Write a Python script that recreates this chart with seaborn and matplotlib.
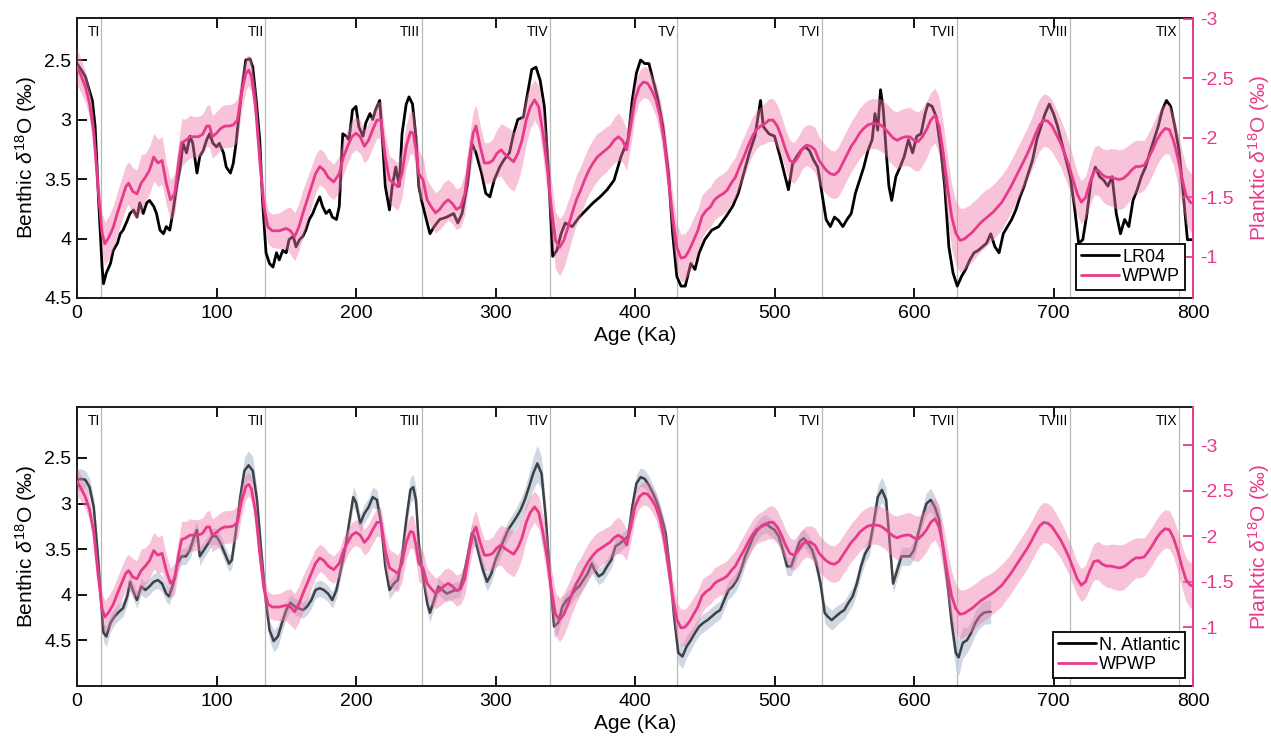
import numpy as np
import pandas as pd
import matplotlib
matplotlib.use("Agg")
import matplotlib.pyplot as plt
import seaborn as sns
from matplotlib.transforms import blended_transform_factory
from matplotlib.lines import Line2D

# ---------------------------------------------------------------- data
# Glacial terminations (age, ka)
term_age = [17.5, 135, 247, 339, 430, 534, 631, 712, 790]
term_name = ["TI", "TII", "TIII", "TIV", "TV", "TVI", "TVII", "TVIII", "TIX"]

# LR04 benthic stack (per mil)
lr04_age = [
    0, 4, 6, 8, 11, 13, 15.5, 18, 19, 21,
    24, 26, 29, 31, 33, 36, 38, 40.5, 43, 45,
    47.5, 50, 52, 55, 57, 59.5, 62, 64, 66.5, 69,
    71.5, 74, 76, 78.5, 81, 83, 86, 88, 90.5, 93,
    95, 97.5, 100, 102, 105, 107, 110, 112, 114, 116.5,
    119, 121, 124, 126, 128.5, 131, 133, 135.5, 138, 140.5,
    143, 145, 147.5, 150, 152, 155, 157, 159.5, 162, 164,
    166.5, 169, 171, 174, 176, 178.5, 181, 183, 186, 188,
    190.5, 193, 195, 197.5, 200, 202, 205, 207, 210, 212,
    214, 217, 219, 221, 224, 226, 228.5, 231, 233, 236,
    238, 240.5, 243, 245, 247, 250, 253, 256, 260, 265,
    270, 273, 276, 280, 283, 286, 290, 293, 296, 299,
    303, 306, 310, 313, 316, 320, 323, 326, 329, 332,
    335, 338, 341, 344, 347, 350, 355, 360, 365, 370,
    375, 380, 385, 390, 395, 398, 401, 404, 407, 410,
    413, 416, 420, 424, 427, 430, 433, 436, 440, 443,
    446, 450, 455, 460, 465, 470, 474, 478, 482, 486,
    490, 492, 496, 500, 504, 507, 510, 513, 516, 519,
    522, 525, 528, 531, 534, 537, 540, 543, 546, 549,
    552, 555, 558, 561, 564, 567, 570, 572, 574, 576,
    578, 580, 582, 584, 587, 590, 593, 596, 599, 602,
    605, 608, 610, 613, 616, 619, 622, 625, 628, 631,
    634, 637, 640, 643, 646, 649, 652, 655, 658, 661,
    664, 667, 670, 673, 676, 679, 682, 685, 688, 691,
    694, 697, 700, 703, 706, 709, 712, 715, 718, 721,
    724, 727, 730, 733, 736, 739, 742, 745, 748, 751,
    754, 757, 760, 763, 766, 769, 772, 775, 778, 781,
    784, 787, 790, 793, 796, 800,
]
lr04_d18o = [
    2.53, 2.60, 2.64, 2.72, 2.84, 3.06, 3.68, 4.24, 4.38, 4.29,
    4.21, 4.10, 4.04, 3.96, 3.93, 3.85, 3.79, 3.76, 3.82, 3.70,
    3.79, 3.70, 3.68, 3.73, 3.79, 3.93, 3.96, 3.90, 3.93, 3.76,
    3.56, 3.40, 3.20, 3.28, 3.14, 3.20, 3.45, 3.31, 3.26, 3.17,
    3.12, 3.20, 3.23, 3.20, 3.28, 3.40, 3.45, 3.37, 3.20, 2.92,
    2.67, 2.50, 2.49, 2.56, 2.84, 3.17, 3.68, 4.12, 4.21, 4.24,
    4.12, 4.18, 4.10, 4.12, 4.01, 3.98, 4.07, 4.01, 3.98, 3.93,
    3.84, 3.79, 3.73, 3.65, 3.73, 3.79, 3.76, 3.82, 3.84, 3.73,
    3.12, 3.14, 3.17, 2.92, 2.89, 3.06, 3.14, 3.03, 2.95, 3.00,
    2.92, 2.84, 3.17, 3.56, 3.76, 3.56, 3.40, 3.56, 3.12, 2.87,
    2.81, 2.87, 3.15, 3.56, 3.68, 3.82, 3.96, 3.90, 3.84, 3.82,
    3.79, 3.87, 3.79, 3.54, 3.20, 3.28, 3.45, 3.62, 3.65, 3.51,
    3.40, 3.34, 3.28, 3.12, 3.00, 2.98, 2.78, 2.58, 2.56, 2.67,
    2.89, 3.45, 4.15, 4.10, 3.96, 3.87, 3.90, 3.82, 3.76, 3.70,
    3.65, 3.59, 3.51, 3.31, 3.17, 2.84, 2.61, 2.50, 2.53, 2.53,
    2.67, 2.81, 3.06, 3.45, 3.96, 4.32, 4.40, 4.40, 4.21, 4.26,
    4.12, 4.01, 3.93, 3.90, 3.82, 3.73, 3.62, 3.45, 3.28, 3.14,
    2.84, 3.06, 3.12, 3.14, 3.31, 3.45, 3.59, 3.37, 3.31, 3.26,
    3.23, 3.26, 3.34, 3.40, 3.62, 3.84, 3.90, 3.82, 3.85, 3.90,
    3.84, 3.79, 3.62, 3.51, 3.40, 3.26, 3.17, 2.95, 3.09, 2.75,
    2.92, 3.26, 3.56, 3.68, 3.48, 3.40, 3.31, 3.17, 3.28, 3.14,
    3.12, 2.95, 2.87, 2.89, 2.98, 3.23, 3.56, 4.07, 4.29, 4.40,
    4.32, 4.26, 4.18, 4.12, 4.10, 4.07, 4.04, 3.96, 4.07, 4.12,
    3.96, 3.90, 3.84, 3.76, 3.65, 3.56, 3.45, 3.34, 3.17, 3.06,
    2.95, 2.87, 2.95, 3.06, 3.20, 3.34, 3.48, 3.73, 4.04, 4.01,
    3.79, 3.51, 3.40, 3.48, 3.51, 3.56, 3.48, 3.79, 3.96, 3.84,
    3.90, 3.68, 3.59, 3.48, 3.40, 3.28, 3.17, 3.06, 2.92, 2.84,
    2.89, 3.06, 3.26, 3.62, 4.01, 4.01,
]

# North Atlantic benthic record (per mil) and its 1-sigma band
natl_age = [
    0, 3, 6, 9, 12, 15, 17, 19, 21, 24,
    27, 30, 33, 36, 38, 40, 43, 46, 49, 52,
    55, 58, 61, 64, 66, 69, 72, 75, 78, 81,
    84, 86, 88, 91, 94, 97, 100, 103, 106, 109,
    111, 114, 117, 120, 123, 126, 129, 132, 135, 138,
    141, 144, 147, 150, 153, 156, 159, 162, 165, 168,
    171, 174, 177, 180, 183, 186, 189, 192, 195, 198,
    200, 203, 206, 209, 212, 215, 218, 221, 224, 227,
    230, 233, 236, 239, 241, 243, 245, 248, 251, 253,
    256, 259, 262, 265, 268, 271, 274, 277, 280, 283,
    285, 288, 291, 294, 297, 300, 303, 306, 309, 312,
    315, 318, 321, 324, 327, 330, 333, 336, 339, 342,
    345, 348, 351, 354, 357, 360, 363, 366, 369, 371,
    374, 377, 380, 383, 386, 389, 392, 395, 398, 401,
    404, 407, 410, 413, 416, 419, 422, 425, 428, 431,
    434, 437, 440, 443, 446, 449, 452, 455, 458, 461,
    464, 467, 470, 473, 476, 479, 482, 485, 488, 491,
    494, 497, 500, 503, 506, 509, 512, 515, 518, 521,
    524, 527, 530, 533, 536, 538, 541, 544, 547, 550,
    553, 556, 559, 562, 565, 568, 571, 574, 577, 580,
    583, 585, 588, 591, 594, 597, 600, 603, 606, 609,
    612, 615, 618, 621, 624, 627, 630, 632, 635, 638,
    641, 644, 647, 650, 653, 655,
]
natl_d18o = [
    2.74, 2.73, 2.74, 2.82, 3.04, 3.58, 4.02, 4.42, 4.46, 4.31,
    4.24, 4.19, 4.15, 4.02, 3.86, 3.95, 4.06, 3.91, 3.95, 3.91,
    3.86, 3.84, 3.88, 3.99, 4.02, 3.88, 3.66, 3.58, 3.58, 3.51,
    3.36, 3.29, 3.58, 3.51, 3.44, 3.36, 3.36, 3.44, 3.55, 3.66,
    3.62, 3.29, 2.93, 2.64, 2.58, 2.64, 2.96, 3.51, 4.02, 4.39,
    4.51, 4.46, 4.31, 4.17, 4.09, 4.13, 4.15, 4.17, 4.13, 4.06,
    3.95, 3.93, 3.95, 3.99, 4.06, 3.95, 3.73, 3.51, 3.22, 2.93,
    2.99, 3.22, 3.11, 3.04, 2.93, 2.96, 3.22, 3.69, 3.95, 3.88,
    3.84, 3.58, 3.18, 2.85, 2.82, 2.96, 3.44, 3.80, 4.09, 4.20,
    4.06, 3.91, 3.95, 3.99, 3.97, 3.95, 3.95, 3.80, 3.58, 3.33,
    3.36, 3.55, 3.73, 3.86, 3.77, 3.62, 3.51, 3.40, 3.29, 3.22,
    3.15, 3.07, 2.96, 2.82, 2.67, 2.56, 2.67, 3.15, 3.80, 4.35,
    4.31, 4.13, 4.06, 4.02, 3.95, 3.91, 3.84, 3.77, 3.66, 3.73,
    3.80, 3.77, 3.69, 3.62, 3.47, 3.44, 3.40, 3.36, 3.04, 2.78,
    2.71, 2.73, 2.80, 2.89, 3.00, 3.15, 3.33, 3.73, 4.24, 4.64,
    4.68, 4.57, 4.50, 4.42, 4.35, 4.31, 4.28, 4.24, 4.20, 4.17,
    4.06, 3.95, 3.91, 3.84, 3.73, 3.58, 3.47, 3.36, 3.29, 3.24,
    3.22, 3.26, 3.29, 3.36, 3.51, 3.69, 3.69, 3.55, 3.42, 3.38,
    3.44, 3.51, 3.66, 3.88, 4.20, 4.24, 4.28, 4.24, 4.20, 4.17,
    4.09, 4.02, 3.88, 3.69, 3.55, 3.47, 3.22, 2.93, 2.85, 2.96,
    3.51, 3.88, 3.73, 3.58, 3.58, 3.58, 3.51, 3.33, 3.15, 3.00,
    2.96, 3.04, 3.18, 3.51, 3.88, 4.31, 4.64, 4.69, 4.53, 4.50,
    4.42, 4.31, 4.24, 4.20, 4.19, 4.19,
]
natl_err = [
    .12, .11, .10, .10, .10, .10, .10, .10, .11, .10,
    .09, .09, .09, .09, .10, .09, .09, .09, .09, .09,
    .09, .09, .09, .09, .09, .09, .09, .09, .09, .09,
    .10, .10, .10, .09, .09, .09, .09, .09, .09, .09,
    .09, .10, .12, .15, .16, .15, .12, .10, .10, .11,
    .12, .12, .10, .09, .09, .09, .09, .09, .09, .09,
    .09, .09, .09, .09, .09, .09, .09, .09, .10, .11,
    .11, .10, .10, .10, .11, .11, .10, .10, .10, .10,
    .10, .10, .12, .14, .14, .13, .11, .10, .10, .10,
    .09, .09, .09, .09, .09, .09, .09, .09, .10, .11,
    .11, .10, .10, .10, .10, .10, .10, .10, .10, .10,
    .11, .12, .13, .15, .18, .20, .18, .14, .12, .12,
    .11, .10, .09, .09, .09, .09, .09, .09, .09, .09,
    .09, .09, .09, .09, .09, .09, .09, .09, .10, .10,
    .10, .10, .10, .09, .09, .09, .09, .10, .11, .12,
    .13, .12, .11, .10, .10, .10, .10, .10, .10, .10,
    .10, .10, .10, .10, .10, .10, .10, .10, .10, .10,
    .10, .10, .10, .10, .10, .10, .10, .10, .10, .10,
    .10, .10, .10, .10, .11, .11, .11, .11, .10, .10,
    .10, .10, .10, .10, .10, .10, .11, .13, .14, .13,
    .12, .11, .10, .10, .10, .10, .10, .10, .11, .12,
    .13, .12, .12, .12, .14, .17, .20, .20, .17, .14,
    .13, .13, .13, .13, .13, .13,
]

# Western Pacific Warm Pool planktic record (per mil) and its 1-sigma band
wpwp_age = [
    0, 3, 6, 9, 12, 15, 18, 20, 23, 26,
    29, 32, 35, 37, 40, 43, 46, 49, 52, 55,
    58, 61, 64, 67, 70, 73, 75, 78, 81, 84,
    87, 90, 93, 95, 97, 100, 103, 106, 109, 112,
    115, 118, 121, 123, 125, 128, 131, 134, 137, 140,
    145, 150, 153, 156, 159, 162, 165, 168, 171, 174,
    177, 180, 184, 188, 191, 194, 197, 200, 203, 206,
    209, 212, 215, 218, 221, 224, 227, 230, 233, 236,
    239, 241, 243, 245, 248, 251, 254, 257, 260, 263,
    266, 269, 272, 275, 278, 281, 284, 286, 289, 292,
    295, 298, 301, 304, 307, 310, 313, 316, 319, 322,
    325, 328, 331, 334, 337, 340, 343, 346, 349, 352,
    355, 358, 361, 364, 367, 370, 373, 376, 379, 382,
    385, 388, 391, 394, 397, 400, 403, 406, 409, 412,
    415, 418, 421, 424, 427, 430, 433, 436, 439, 442,
    445, 448, 451, 454, 457, 460, 463, 466, 469, 472,
    475, 478, 481, 484, 487, 490, 493, 496, 499, 502,
    505, 508, 511, 514, 517, 520, 523, 526, 529, 532,
    535, 537, 540, 543, 546, 549, 552, 555, 558, 561,
    564, 567, 570, 573, 576, 579, 582, 585, 588, 591,
    594, 597, 600, 603, 606, 609, 612, 615, 618, 621,
    624, 627, 630, 633, 636, 639, 642, 645, 648, 651,
    654, 657, 660, 663, 666, 669, 672, 675, 678, 681,
    684, 687, 690, 693, 696, 699, 702, 705, 708, 711,
    714, 717, 720, 723, 726, 729, 732, 735, 738, 741,
    744, 747, 750, 753, 756, 759, 762, 765, 768, 771,
    774, 777, 780, 783, 786, 789, 792, 795, 798, 800,
]
wpwp_d18o = [
    -2.60, -2.52, -2.43, -2.29, -2.04, -1.59, -1.20, -1.11, -1.17, -1.25,
    -1.37, -1.48, -1.59, -1.62, -1.55, -1.53, -1.62, -1.67, -1.73, -1.84,
    -1.79, -1.81, -1.62, -1.48, -1.53, -1.81, -1.96, -1.98, -2.01, -2.01,
    -2.01, -2.03, -2.10, -2.10, -2.01, -2.04, -2.08, -2.10, -2.10, -2.11,
    -2.15, -2.38, -2.54, -2.57, -2.52, -2.26, -1.81, -1.42, -1.25, -1.22,
    -1.22, -1.24, -1.22, -1.17, -1.25, -1.37, -1.48, -1.59, -1.70, -1.76,
    -1.73, -1.67, -1.63, -1.70, -1.84, -1.93, -2.01, -2.04, -2.01, -1.93,
    -1.98, -2.07, -2.15, -2.15, -1.84, -1.65, -1.62, -1.59, -1.70, -1.93,
    -2.05, -2.04, -1.90, -1.70, -1.65, -1.48, -1.42, -1.37, -1.40, -1.45,
    -1.48, -1.45, -1.40, -1.42, -1.53, -1.81, -2.04, -2.10, -1.93, -1.79,
    -1.79, -1.81, -1.87, -1.90, -1.86, -1.83, -1.80, -1.87, -1.98, -2.15,
    -2.26, -2.32, -2.26, -2.04, -1.76, -1.42, -1.14, -1.08, -1.14, -1.25,
    -1.37, -1.48, -1.56, -1.65, -1.73, -1.79, -1.84, -1.87, -1.90, -1.93,
    -1.98, -2.01, -1.98, -1.90, -2.10, -2.32, -2.43, -2.47, -2.46, -2.40,
    -2.32, -2.18, -1.96, -1.65, -1.34, -1.08, -0.99, -1.00, -1.06, -1.14,
    -1.22, -1.34, -1.39, -1.42, -1.48, -1.51, -1.53, -1.56, -1.62, -1.67,
    -1.76, -1.84, -1.93, -2.01, -2.07, -2.10, -2.12, -2.15, -2.15, -2.10,
    -2.01, -1.90, -1.81, -1.79, -1.84, -1.91, -1.94, -1.93, -1.90, -1.81,
    -1.76, -1.73, -1.70, -1.69, -1.72, -1.79, -1.86, -1.93, -1.98, -2.04,
    -2.08, -2.11, -2.12, -2.12, -2.11, -2.08, -2.04, -2.00, -1.98, -2.00,
    -2.01, -2.01, -1.98, -1.97, -2.01, -2.07, -2.15, -2.19, -2.10, -1.87,
    -1.59, -1.34, -1.20, -1.14, -1.15, -1.18, -1.21, -1.25, -1.29, -1.32,
    -1.35, -1.38, -1.42, -1.46, -1.52, -1.58, -1.65, -1.72, -1.79, -1.86,
    -1.94, -2.03, -2.11, -2.15, -2.14, -2.10, -2.03, -1.96, -1.87, -1.77,
    -1.65, -1.53, -1.46, -1.50, -1.62, -1.72, -1.73, -1.69, -1.67, -1.67,
    -1.66, -1.65, -1.66, -1.69, -1.73, -1.76, -1.76, -1.77, -1.83, -1.90,
    -1.98, -2.04, -2.08, -2.07, -1.98, -1.84, -1.67, -1.52, -1.46, -1.45,
]
wpwp_err = [
    .15, .14, .13, .12, .12, .13, .17, .18, .18, .18,
    .18, .18, .18, .18, .20, .20, .24, .20, .20, .20,
    .20, .20, .18, .17, .17, .17, .20, .18, .18, .17,
    .17, .17, .17, .18, .18, .18, .18, .18, .18, .18,
    .18, .16, .14, .13, .13, .15, .16, .15, .14, .14,
    .15, .17, .20, .20, .20, .20, .18, .17, .16, .15,
    .15, .15, .15, .15, .15, .14, .14, .14, .14, .14,
    .15, .15, .15, .16, .18, .20, .20, .20, .20, .18,
    .18, .18, .18, .20, .18, .17, .17, .17, .17, .18,
    .17, .17, .17, .17, .18, .18, .18, .18, .18, .17,
    .17, .18, .20, .22, .24, .25, .25, .24, .22, .20,
    .18, .17, .18, .20, .22, .23, .24, .24, .23, .22,
    .21, .21, .20, .20, .20, .20, .20, .19, .19, .18,
    .19, .20, .18, .17, .16, .14, .13, .13, .13, .13,
    .14, .15, .16, .18, .19, .20, .20, .20, .19, .19,
    .18, .18, .17, .17, .17, .17, .17, .17, .17, .17,
    .17, .17, .16, .16, .16, .16, .17, .18, .18, .18,
    .17, .17, .17, .17, .17, .17, .17, .18, .19, .20,
    .20, .20, .20, .20, .21, .21, .21, .21, .21, .21,
    .21, .21, .21, .21, .22, .22, .23, .23, .24, .24,
    .24, .25, .25, .25, .24, .24, .23, .23, .24, .25,
    .26, .27, .27, .27, .26, .25, .25, .24, .24, .24,
    .23, .23, .23, .23, .22, .22, .22, .22, .22, .22,
    .22, .22, .22, .22, .22, .22, .21, .20, .20, .19,
    .19, .18, .18, .18, .19, .20, .21, .22, .23, .24,
    .25, .25, .25, .24, .23, .22, .22, .21, .21, .21,
    .21, .21, .21, .21, .21, .22, .23, .24, .25, .25,
]

benthic_ticks = [2.5, 3, 3.5, 4, 4.5]
planktic_ticks = [-3, -2.5, -2, -1.5, -1]
age_ticks = [0, 100, 200, 300, 400, 500, 600, 700, 800]

# ---------------------------------------------------------------- style
sns.set_style("ticks")
plt.rcParams["font.family"] = ["Liberation Sans", "DejaVu Sans"]
plt.rcParams["axes.unicode_minus"] = False
plt.rcParams["text.color"] = "black"
plt.rcParams["axes.labelcolor"] = "black"
plt.rcParams["xtick.color"] = "black"
plt.rcParams["ytick.color"] = "black"
plt.rcParams["mathtext.fontset"] = "custom"
plt.rcParams["mathtext.rm"] = "Liberation Sans"
plt.rcParams["mathtext.it"] = "Liberation Sans:italic"

PINK = "#e83a8c"
PINK_BAND = "#f07aaa"
NATL = "#3c4047"
NATL_BAND = "#c3cedd"
TERM = "#b8b8b8"

lr04 = pd.DataFrame({"age": lr04_age, "d18O": lr04_d18o})
natl = pd.DataFrame({"age": natl_age, "d18O": natl_d18o, "err": natl_err})
wpwp = pd.DataFrame({"age": wpwp_age, "d18O": wpwp_d18o, "err": wpwp_err})

W, H = 1271, 741
fig = plt.figure(figsize=(W / 100, H / 100), dpi=100)
left, right = 77 / W, 1193 / W
ax_top = fig.add_axes([left, 1 - 298 / H, right - left, 280 / H])
ax_bot = fig.add_axes([left, 1 - 686 / H, right - left, 279 / H])


def style_panel(ax, ax2, blim, plim):
    ax.set_xlim(0, 800)
    ax.set_ylim(*blim)
    ax2.set_ylim(*plim)
    ax.set_xticks(age_ticks)
    ax.set_yticks(benthic_ticks)
    ax.set_yticklabels([f"{t:g}" for t in benthic_ticks])
    ax2.set_yticks(planktic_ticks)
    ax2.set_yticklabels([f"{t:g}" for t in planktic_ticks])
    ax.tick_params(axis="x", direction="in", top=True, length=7, width=1.3,
                   labelsize=14, pad=5, colors="black")
    ax.tick_params(axis="y", direction="in", right=False, length=7, width=1.3,
                   labelsize=14, pad=4, colors="black")
    ax2.tick_params(axis="y", direction="in", length=7, width=1.3, labelsize=14,
                    colors=PINK, pad=5)
    for s in ["left", "bottom", "top"]:
        ax.spines[s].set_linewidth(1.4)
        ax.spines[s].set_color("#1a1a1a")
        ax2.spines[s].set_visible(False)
    ax.spines["right"].set_visible(False)
    ax2.spines["right"].set_color(PINK)
    ax2.spines["right"].set_linewidth(1.4)
    ax.set_xlabel("Age (Ka)", fontsize=15, labelpad=3, color="black")
    ax.set_ylabel(r"Benthic $\delta^{18}$O (‰)", fontsize=15, labelpad=4,
                  color="black")
    ax2.set_ylabel(r"Planktic $\delta^{18}$O (‰)", fontsize=15, color=PINK,
                   labelpad=9)

    trans = blended_transform_factory(ax.transData, ax.transAxes)
    for age, name in zip(term_age, term_name):
        ax.axvline(age, color=TERM, lw=0.9, zorder=0)
        ax.text(age - 1.2, 0.95, name, transform=trans, ha="right",
                va="center", fontsize=10, color="black")


def draw_wpwp(ax2):
    ax2.fill_between(wpwp["age"], wpwp["d18O"] - wpwp["err"],
                     wpwp["d18O"] + wpwp["err"], color=PINK_BAND, alpha=0.45,
                     lw=0)
    sns.lineplot(data=wpwp, x="age", y="d18O", ax=ax2, color=PINK, lw=2.0)


def add_legend(ax2, first_label):
    leg = ax2.legend(handles=[Line2D([], [], color="black", lw=2),
                              Line2D([], [], color=PINK, lw=2)],
                     labels=[first_label, "WPWP"], loc="lower right",
                     fontsize=13, frameon=True, fancybox=False, framealpha=1,
                     edgecolor="black", borderaxespad=0.45, borderpad=0.25,
                     labelspacing=0.15, handlelength=2.1, handletextpad=0.2)
    leg.get_frame().set_linewidth(1.3)
    for t in leg.get_texts():
        t.set_color("black")


# ---- top panel: LR04 vs WPWP
ax2_top = ax_top.twinx()
sns.lineplot(data=lr04, x="age", y="d18O", ax=ax_top, color="black", lw=2.0)
draw_wpwp(ax2_top)
style_panel(ax_top, ax2_top, (4.5, 2.147), (-0.655, -3.008))
add_legend(ax2_top, "LR04")

# ---- bottom panel: North Atlantic vs WPWP
ax2_bot = ax_bot.twinx()
ax_bot.fill_between(natl["age"], natl["d18O"] - natl["err"],
                    natl["d18O"] + natl["err"], color=NATL_BAND, alpha=0.8, lw=0)
sns.lineplot(data=natl, x="age", y="d18O", ax=ax_bot, color=NATL, lw=1.8)
draw_wpwp(ax2_bot)
style_panel(ax_bot, ax2_bot, (5.004, 1.94), (-0.352, -3.418))
add_legend(ax2_bot, "N. Atlantic")

fig.savefig("out.png", dpi=100)
